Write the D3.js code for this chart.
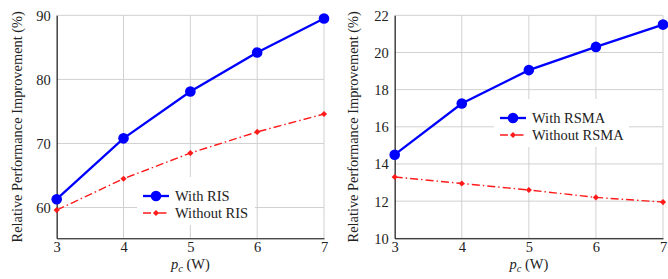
<!DOCTYPE html>
<html>
<head>
<meta charset="utf-8">
<script src="https://cdn.jsdelivr.net/npm/d3@7"></script>
<style>
  body { margin: 0; background: #fff; }
</style>
</head>
<body>
<svg id="chart" width="668" height="279"></svg>
<script>
// x values (p_c in W)
const pc = [3, 4, 5, 6, 7];

// left panel: RIS
const withRIS = [61.3, 70.8, 78.1, 84.2, 89.5];
const withoutRIS = [59.6, 64.5, 68.5, 71.8, 74.6];
const risTicks = [60, 70, 80, 90];

// right panel: RSMA
const withRSMA = [14.5, 17.25, 19.05, 20.3, 21.5];
const withoutRSMA = [13.3, 12.95, 12.6, 12.2, 11.95];
const rsmaTicks = [10, 12, 14, 16, 18, 20, 22];

const FONT = "'Liberation Serif', 'Times New Roman', serif";
const svg = d3.select("#chart");

function panel(opts) {
    const g = svg.append("g");
    const x = d3.scaleLinear().domain([3, 7]).range([opts.left, opts.right]);
    const y = d3.scaleLinear().domain(opts.ydom).range([238.3, 15.3]);

    // grid
    g.append("g").selectAll("line").data(pc).enter().append("line")
        .attr("x1", d => x(d)).attr("x2", d => x(d))
        .attr("y1", y.range()[0]).attr("y2", y.range()[1])
        .attr("stroke", "#d0d0d0").attr("stroke-width", 1);
    g.append("g").selectAll("line").data(opts.ticks).enter().append("line")
        .attr("x1", x.range()[0]).attr("x2", x.range()[1])
        .attr("y1", d => y(d)).attr("y2", d => y(d))
        .attr("stroke", "#d0d0d0").attr("stroke-width", 1);

    // axes
    const xa = g.append("g").attr("transform", `translate(0,${y.range()[0]})`)
        .call(d3.axisBottom(x).tickValues(pc).tickSize(0).tickPadding(3).tickFormat(d3.format("d")));
    const ya = g.append("g").attr("transform", `translate(${x.range()[0]},0)`)
        .call(d3.axisLeft(y).tickValues(opts.ticks).tickSize(0).tickPadding(6).tickFormat(d3.format("d")));
    [xa, ya].forEach(a => {
        a.select(".domain").attr("stroke", "#000").attr("stroke-width", 1);
        a.selectAll("text").style("font-size", "14.5px");
    });
    xa.selectAll("text").attr("dy", "0.71em");
    ya.selectAll("text").attr("dy", "0.34em");

    // axis titles
    g.append("text")
        .attr("transform", `translate(${opts.titleX},${(y.range()[0] + y.range()[1]) / 2}) rotate(-90)`)
        .attr("text-anchor", "middle")
        .style("font-size", "14.4px")
        .text("Relative Performance Improvement (%)");
    const xl = g.append("text")
        .attr("x", (x.range()[0] + x.range()[1]) / 2)
        .attr("y", 269)
        .attr("text-anchor", "middle")
        .style("font-size", "14.5px");
    xl.append("tspan").attr("font-style", "italic").text("p");
    xl.append("tspan").attr("font-style", "italic").style("font-size", "10.5px").attr("dy", 3).text("c");
    xl.append("tspan").attr("dy", -3).text(" (W)");

    const line = d3.line().x((d, i) => x(pc[i])).y(d => y(d));

    // without (red dash-dot)
    g.append("path").datum(opts.without)
        .attr("d", line).attr("fill", "none")
        .attr("stroke", "#ff1a1a").attr("stroke-width", 1.4)
        .attr("stroke-dasharray", "8,3,1.5,3");
    const diamond = d3.symbol().type(d3.symbolDiamond2).size(24);
    g.append("g").selectAll("path").data(opts.without).enter().append("path")
        .attr("d", diamond)
        .attr("transform", (d, i) => `translate(${x(pc[i])},${y(d)})`)
        .attr("fill", "#ff1a1a");

    // with (blue solid)
    g.append("path").datum(opts.with)
        .attr("d", line).attr("fill", "none")
        .attr("stroke", "#0000ff").attr("stroke-width", 2.3);
    g.append("g").selectAll("circle").data(opts.with).enter().append("circle")
        .attr("cx", (d, i) => x(pc[i])).attr("cy", d => y(d))
        .attr("r", 5.3).attr("fill", "#0000ff");

    // legend
    const lg = g.append("g").attr("transform", `translate(${opts.legX},${opts.legY})`);
    lg.append("rect").attr("x", 0).attr("y", 0)
        .attr("width", opts.legW).attr("height", 48).attr("fill", "#fff");
    lg.append("line").attr("x1", 6).attr("x2", 32).attr("y1", 19).attr("y2", 19)
        .attr("stroke", "#0000ff").attr("stroke-width", 2.3);
    lg.append("circle").attr("cx", 19).attr("cy", 19).attr("r", 5.3).attr("fill", "#0000ff");
    lg.append("line").attr("x1", 6).attr("x2", 32).attr("y1", 36).attr("y2", 36)
        .attr("stroke", "#ff1a1a").attr("stroke-width", 1.4).attr("stroke-dasharray", "8,3,1.5,3");
    lg.append("path").attr("d", diamond).attr("transform", "translate(19,36)").attr("fill", "#ff1a1a");
    lg.append("text").attr("x", 38).attr("y", 24).style("font-size", "14.5px").text(opts.names[0]);
    lg.append("text").attr("x", 38).attr("y", 41).style("font-size", "14.5px").text(opts.names[1]);
}

panel({
    left: 56.7, right: 324, ydom: [55.2, 90], ticks: risTicks,
    with: withRIS, without: withoutRIS, titleX: 22,
    legX: 137, legY: 177, legW: 118, names: ["With RIS", "Without RIS"]
});
panel({
    left: 394.7, right: 663, ydom: [10, 22], ticks: rsmaTicks,
    with: withRSMA, without: withoutRSMA, titleX: 358,
    legX: 494, legY: 99, legW: 135, names: ["With RSMA", "Without RSMA"]
});

svg.selectAll("text").style("font-family", FONT).style("fill", "#222");
</script>
</body>
</html>
